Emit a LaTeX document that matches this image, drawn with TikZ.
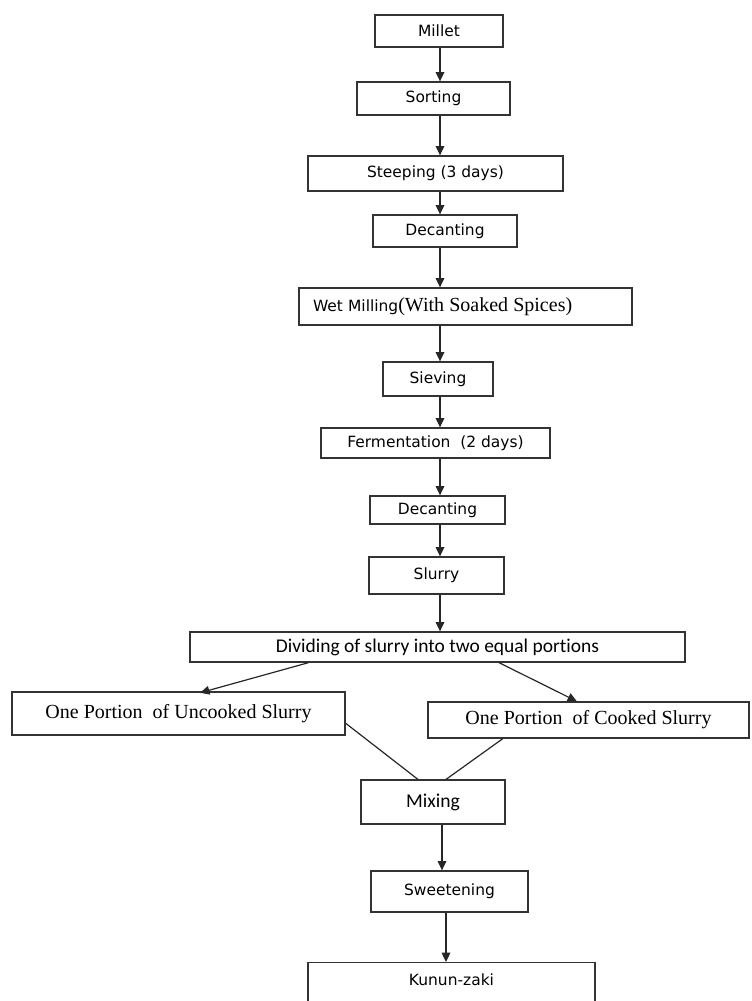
\documentclass[tikz,border=0pt]{standalone}
\usepackage{fontspec}
\setmainfont{DejaVu Sans}
\newfontfamily\calfont{Carlito}[Ligatures=NoCommon]
\newfontfamily\serfont{Liberation Serif}
\usetikzlibrary{arrows.meta,calc}
\begin{document}
\begin{tikzpicture}[x=0.75pt,y=-0.75pt,
  box/.style={draw=black!80,line width=1pt,rectangle,inner sep=0pt,font=\fontsize{11.6}{14}\selectfont},
  arr/.style={draw=black!85,line width=0.9pt,-{Triangle[width=6.5pt,length=7pt]}},
  link/.style={draw=black!85,line width=0.9pt}]
\useasboundingbox (0,0) rectangle (751,1001);
\clip (0,0) rectangle (751,1001);
\coordinate (spine) at (440,0);
\coordinate (spinetwo) at (442,0);
\coordinate (spinethree) at (446,0);
% main column
\foreach\n/\x/\y/\w/\h/\t in {millet/439/31/128/32/Millet,sorting/433.5/98.5/153/33/Sorting,
  steeping/435.5/173.5/255/35/Steeping (3 days),decant/445/231/144/32/Decanting,
  sieving/438/379/110/34/Sieving,ferment/435.5/443/229/30/Fermentation\ \ (2 days),
  decanttwo/437.5/510/135/28/Decanting,slurry/436.5/575.5/135/37/Slurry,
  sweeten/449.5/891.5/157/41/Sweetening} {
  \node[box,minimum width=\w*0.75pt,minimum height=\h*0.75pt] (\n) at (\x,\y) {\t};
}
\node[box,minimum height=37*0.75pt,text width=305*0.75pt,inner xsep=14*0.75pt,align=left] (wetmill) at (465.5,306.5)
  {Wet Milling{\serfont\fontsize{15}{18}\selectfont(With Soaked Spices)}};
\node[box,minimum width=495*0.75pt,minimum height=30*0.75pt,font=\calfont\fontsize{14.6}{17}\selectfont] (divide) at (437.5,647)
  {Dividing of slurry into two equal portions};
\node[box,minimum width=333*0.75pt,minimum height=43*0.75pt,font=\serfont\fontsize{15}{18}\selectfont] (uncooked) at (178.5,713.5)
  {One Portion\ \ of Uncooked Slurry};
\node[box,minimum width=321*0.75pt,minimum height=36*0.75pt,font=\serfont\fontsize{15}{18}\selectfont] (cooked) at (588.5,720)
  {One Portion\ \ of Cooked Slurry};
\node[box,minimum width=144*0.75pt,minimum height=44*0.75pt,font=\calfont\fontsize{14.7}{17}\selectfont] (mixing) at (433,802) {Mixing};
\node[box,anchor=north,minimum width=287*0.75pt,inner ysep=8pt,text depth=40pt] (kunun) at (451.5,962) {Kunun-zaki};
% arrows
\foreach\a/\b in {millet/sorting,sorting/steeping,steeping/decant,decant/wetmill,wetmill/sieving,
  sieving/ferment,ferment/decanttwo,decanttwo/slurry,slurry/divide} {
  \draw[arr] (\a.south -| spine) -- (\b.north -| spine);
}
\draw[arr] (mixing.south -| spinetwo) -- (sweeten.north -| spinetwo);
\draw[arr] (sweeten.south -| spinethree) -- (kunun.north -| spinethree);
\draw[arr,shorten >=-4pt] ($(divide.south west)!.24!(divide.south east)$) -- ($(uncooked.north west)!.58!(uncooked.north east)$);
\draw[arr] ($(divide.south west)!.624!(divide.south east)$) -- ($(cooked.north west)!.464!(cooked.north east)$);
\draw[link] ($(uncooked.north east)!.72!(uncooked.south east)$) -- ($(mixing.north west)!.396!(mixing.north east)$);
\draw[link] ($(cooked.south west)!.234!(cooked.south east)$) -- ($(mixing.north west)!.59!(mixing.north east)$);
\end{tikzpicture}
\end{document}
